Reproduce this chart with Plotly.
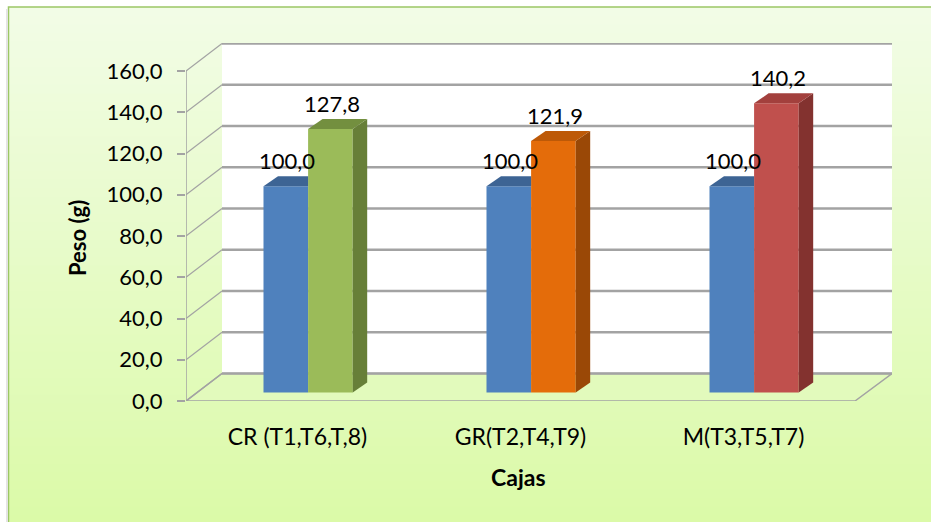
import plotly.graph_objects as go

# ---------------- data ----------------
categories = ["CR (T1,T6,T,8)", "GR(T2,T4,T9)", "M(T3,T5,T7)"]
reference_values = [100.0, 100.0, 100.0]
treated_values = [127.8, 121.9, 140.2]
y_ticks = [0, 20, 40, 60, 80, 100, 120, 140, 160]
y_title = "Peso (g)"
x_title = "Cajas"

# ---------------- styling / geometry ----------------
W, H = 931, 522
M_L, M_R, M_T, M_B = 186, 39, 43, 121
PLOT_W = W - M_L - M_R
PLOT_H = H - M_T - M_B
PX_PER_CAT = 223.0
PX_PER_UNIT = 2.0625
X_RANGE = [-0.5, -0.5 + PLOT_W / PX_PER_CAT]
Y_RANGE = [0, PLOT_H / PX_PER_UNIT]
DX = 36 / PX_PER_CAT          # depth offset of back wall (x units)
DY = 27.5 / PX_PER_UNIT       # depth offset of back wall (y units)
FRONT_RIGHT = 2.5
BAR_W = 0.2
BAR_OFF = -0.1525             # left edge of first bar relative to category centre
BAR_BASE = 8.5 / PX_PER_UNIT  # bars sit a little behind the front edge
BDX = 14.5 / PX_PER_CAT       # bar depth
BDY = 10 / PX_PER_UNIT

FONT = "Lato, 'Open Sans', sans-serif"
ref_colors = {"front": "#4f81bd", "top": "#3d6494", "side": "#35577f"}
treat_colors = [
    {"front": "#9bbb59", "top": "#738f3f", "side": "#677f38"},
    {"front": "#e46c0a", "top": "#bd5907", "side": "#9a4806"},
    {"front": "#c0504d", "top": "#a3403d", "side": "#83322f"},
]
GRID = "#a3a3a3"


def fmt(v):
    return f"{v:.1f}".replace(".", ",")


def px_x(px):
    return (px - M_L) / PLOT_W


def px_y(py):
    return (H - M_B - py) / PLOT_H


xs = list(range(len(categories)))
fig = go.Figure()

shapes = []
# gradient background (bands)
top_c = (242, 252, 230)
bot_c = (219, 250, 168)
N = 60
y_top, y_bot = 7, H + 2
for i in range(N):
    t = i / (N - 1)
    c = tuple(round(top_c[k] + (bot_c[k] - top_c[k]) * t) for k in range(3))
    ya = y_top + (y_bot - y_top) * i / N
    yb = y_top + (y_bot - y_top) * (i + 1) / N + 1
    shapes.append(dict(type="rect", xref="paper", yref="paper", layer="below",
                       x0=px_x(9), x1=px_x(W + 30), y0=px_y(ya), y1=px_y(yb),
                       fillcolor="rgb(%d,%d,%d)" % c, line=dict(width=0)))
# chart border (only left and top edges fall inside the picture)
border_path = "M {x0},{yb} L {x0},{yt} L {x1},{yt}".format(
    x0=px_x(8.5), yb=px_y(H + 30), yt=px_y(7), x1=px_x(W + 30))
shapes.append(dict(type="path", xref="paper", yref="paper", layer="below", path=border_path,
                   line=dict(color="#9cc665", width=1.5)))
shapes.append(dict(type="line", xref="paper", yref="paper", layer="below",
                   x0=px_x(7), x1=px_x(7), y0=px_y(9), y1=px_y(H),
                   line=dict(color="#e4e4e4", width=2)))

# back wall
shapes.append(dict(type="rect", xref="x", yref="y", layer="below",
                   x0=X_RANGE[0] + DX, x1=X_RANGE[1], y0=DY, y1=y_ticks[-1] + DY,
                   fillcolor="white", line=dict(width=0)))
# floor
floor_path = "M {a},{b} L {c},{d} L {e},{d} L {f},{b} Z".format(
    a=X_RANGE[0], b=0, c=X_RANGE[0] + DX, d=DY, e=X_RANGE[1], f=FRONT_RIGHT)
shapes.append(dict(type="path", xref="x", yref="y", layer="below", path=floor_path,
                   fillcolor="#e2fabc", line=dict(color=GRID, width=1.5)))
# back wall gridlines + side wall diagonals
for v in y_ticks:
    shapes.append(dict(type="line", xref="x", yref="y", layer="below",
                       x0=X_RANGE[0] + DX, x1=X_RANGE[1], y0=v + DY, y1=v + DY,
                       line=dict(color=GRID, width=2.5)))
    shapes.append(dict(type="line", xref="x", yref="y", layer="below",
                       x0=X_RANGE[0], x1=X_RANGE[0] + DX, y0=v, y1=v + DY,
                       line=dict(color=GRID, width=1.2)))
# front vertical axis line
shapes.append(dict(type="line", xref="x", yref="y", layer="below",
                   x0=X_RANGE[0], x1=X_RANGE[0], y0=0, y1=y_ticks[-1],
                   line=dict(color=GRID, width=1.5)))

# bars: front faces
fig.add_trace(go.Bar(x=xs, y=reference_values, base=BAR_BASE, width=BAR_W, offset=BAR_OFF,
                     marker=dict(color=ref_colors["front"], line=dict(width=0)),
                     name="Referencia", hovertemplate="%{y:.1f}<extra></extra>"))
fig.add_trace(go.Bar(x=xs, y=treated_values, base=BAR_BASE, width=BAR_W, offset=BAR_OFF + BAR_W,
                     marker=dict(color=[c["front"] for c in treat_colors], line=dict(width=0)),
                     name="Tratamiento", hovertemplate="%{y:.1f}<extra></extra>"))


def poly(xx, yy, color):
    fig.add_trace(go.Scatter(x=xx + [xx[0]], y=yy + [yy[0]], mode="lines", fill="toself",
                             fillcolor=color, line=dict(width=0, color=color),
                             hoverinfo="skip", showlegend=False))


annotations = []
for i, x in enumerate(xs):
    # reference bar top (clipped where the taller neighbour stands in front)
    L = x + BAR_OFF
    R = L + BAR_W
    T = BAR_BASE + reference_values[i]
    poly([L, R, R, L + BDX], [T, T, T + BDY, T + BDY], ref_colors["top"])
    # treated bar side and top
    L2 = R
    R2 = L2 + BAR_W
    T2 = BAR_BASE + treated_values[i]
    poly([R2, R2 + BDX, R2 + BDX, R2], [BAR_BASE, BAR_BASE + BDY, T2 + BDY, T2], treat_colors[i]["side"])
    poly([L2, R2, R2 + BDX, L2 + BDX], [T2, T2, T2 + BDY, T2 + BDY], treat_colors[i]["top"])
    for cx, top, v in [((L + R) / 2, T, reference_values[i]), ((L2 + R2) / 2, T2, treated_values[i])]:
        annotations.append(dict(x=cx, y=top, xref="x", yref="y", text=fmt(v), showarrow=False,
                                xshift=1.5, yshift=25.5, yanchor="middle", xanchor="center",
                                font=dict(family=FONT, size=22, color="black")))

annotations.append(dict(xref="paper", yref="paper", x=px_x(78), y=px_y(238), text="<b>%s</b>" % y_title,
                        xanchor="center", yanchor="middle",
                        showarrow=False, textangle=-90, font=dict(family=FONT, size=22, color="black")))
annotations.append(dict(xref="paper", yref="paper", x=px_x(518), y=px_y(477), text="<b>%s</b>" % x_title,
                        xanchor="center", yanchor="middle",
                        showarrow=False, font=dict(family=FONT, size=23, color="black")))

fig.update_layout(
    width=W, height=H,
    margin=dict(l=M_L, r=M_R, t=M_T, b=M_B, pad=0),
    paper_bgcolor="white", plot_bgcolor="rgba(0,0,0,0)",
    separators=",.",
    barmode="overlay", showlegend=False,
    shapes=shapes, annotations=annotations,
    font=dict(family=FONT, size=20, color="black"),
    xaxis=dict(range=X_RANGE, tickvals=xs, ticktext=categories, showgrid=False, zeroline=False,
               showline=False, ticks="", tickfont=dict(size=23), ticklabelstandoff=20, fixedrange=True,
               automargin=False),
    yaxis=dict(range=Y_RANGE, tickvals=y_ticks, tickformat=".1f", showgrid=False, zeroline=False,
               showline=False, ticks="outside", ticklen=8, tickcolor=GRID, tickwidth=1.5,
               tickfont=dict(size=22), ticklabelstandoff=10, fixedrange=True, automargin=False),
)

fig.write_html("out.html", config={"displayModeBar": False})

# remove the default page margin so the figure fills the window exactly
with open("out.html", encoding="utf-8") as f:
    html = f.read()
html = html.replace("<head>", "<head><style>html,body{margin:0;padding:0;overflow:hidden;}</style>", 1)
with open("out.html", "w", encoding="utf-8") as f:
    f.write(html)
